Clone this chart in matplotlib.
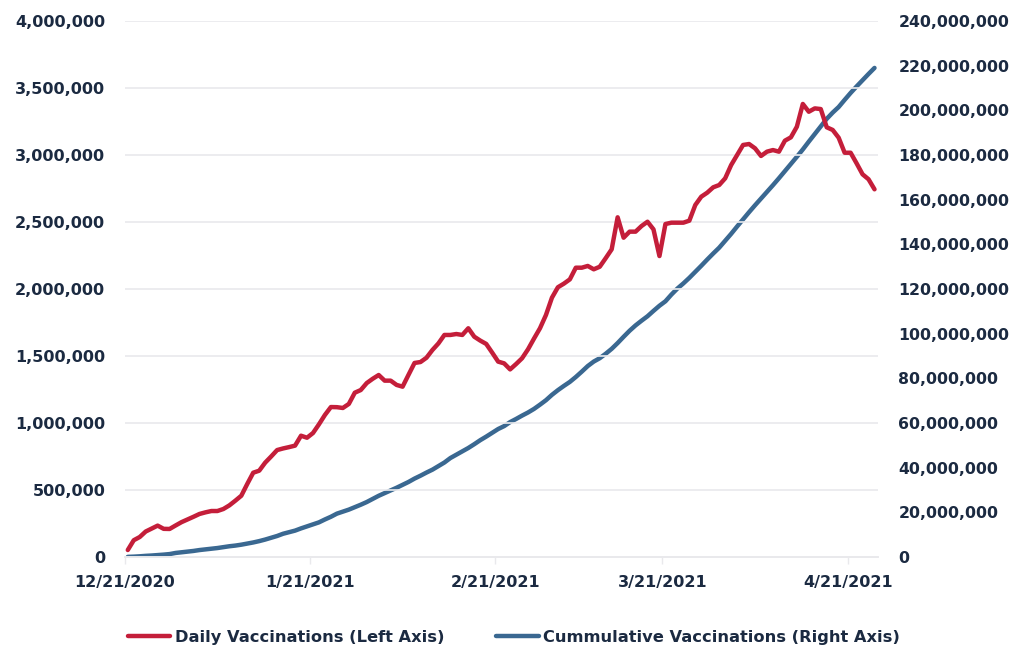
import numpy as np
import matplotlib
matplotlib.use("Agg")
from matplotlib import pyplot as plt
from matplotlib.ticker import FuncFormatter

# daily vaccinations, thousands, one value per day from 12/21/2020
daily_k = [
    52, 125, 149, 190, 212, 234, 210, 209, 235, 260,
    280, 300, 321, 333, 343, 343, 358, 385, 420, 457,
    545, 629, 644, 704, 750, 798, 810, 820, 831, 905,
    890, 925, 990, 1060, 1119, 1118, 1112, 1142, 1226, 1246,
    1298, 1330, 1358, 1316, 1316, 1284, 1271, 1360, 1448, 1455,
    1487, 1545, 1594, 1657, 1657, 1664, 1657, 1707, 1644, 1615,
    1590, 1525, 1458, 1445, 1400, 1440, 1483, 1550, 1630, 1707,
    1806, 1935, 2013, 2040, 2072, 2159, 2159, 2172, 2147, 2166,
    2230, 2296, 2535, 2383, 2428, 2428, 2470, 2502, 2445, 2246,
    2485, 2495, 2495, 2495, 2510, 2627, 2689, 2719, 2759, 2776,
    2826, 2925, 3000, 3075, 3082, 3050, 2993, 3025, 3037, 3025,
    3107, 3132, 3211, 3381, 3323, 3348, 3343, 3207, 3187, 3129,
    3017, 3017, 2938, 2856, 2819, 2744,
]

# cumulative vaccinations, millions
cumul_m = [
    0.05, 0.15, 0.3, 0.5, 0.65, 0.85, 1.05, 1.3, 1.8, 2.1,
    2.4, 2.7, 3.1, 3.4, 3.7, 4.0, 4.4, 4.8, 5.1, 5.5,
    6.0, 6.5, 7.1, 7.8, 8.6, 9.4, 10.4, 11.1, 11.8, 12.8,
    13.7, 14.6, 15.5, 16.8, 18.0, 19.4, 20.3, 21.2, 22.3, 23.4,
    24.6, 26.0, 27.4, 28.6, 29.8, 31.0, 32.3, 33.6, 35.1, 36.4,
    37.8, 39.1, 40.7, 42.3, 44.3, 45.8, 47.3, 48.8, 50.5, 52.3,
    53.9, 55.6, 57.3, 58.6, 60.4, 61.8, 63.3, 64.7, 66.3, 68.2,
    70.2, 72.6, 74.7, 76.6, 78.4, 80.6, 83.0, 85.5, 87.5, 89.0,
    91.0, 93.2, 95.8, 98.6, 101.3, 103.7, 105.8, 107.8, 110.2, 112.5,
    114.5, 117.5, 120.2, 122.5, 125.0, 127.7, 130.4, 133.2, 135.9, 138.5,
    141.6, 144.7, 148.0, 151.2, 154.4, 157.5, 160.5, 163.5, 166.5, 169.6,
    172.8, 176.0, 179.2, 182.5, 186.0, 189.4, 192.8, 196.2, 199.0, 201.5,
    204.7, 207.8, 210.7, 213.5, 216.3, 219.0,
]

tick_days = [0, 31, 62, 90, 121]
tick_labels = ["12/21/2020", "1/21/2021", "2/21/2021", "3/21/2021", "4/21/2021"]

red = "#C41E3A"
blue = "#3A6891"
txt = "#1B2A41"
grid_c = "#E9E9EC"

daily = np.array(daily_k) * 1e3
cumul = np.array(cumul_m) * 1e6
x = np.arange(len(daily)) + 0.5  # points sit between day ticks

plt.rcParams["font.family"] = ["DejaVu Sans"]
plt.rcParams["font.weight"] = "bold"

fig = plt.figure(figsize=(10.28, 6.49), dpi=100)
ax = fig.add_axes([0.1214, 0.1418, 0.7322, 0.8258])
ax2 = ax.twinx()

l1, = ax.plot(x, daily, color=red, lw=3.2, solid_capstyle="round", solid_joinstyle="round",
              label="Daily Vaccinations (Left Axis)", zorder=3)
l2, = ax2.plot(x, cumul, color=blue, lw=3.2, solid_capstyle="round", solid_joinstyle="round",
               label="Cummulative Vaccinations (Right Axis)", zorder=3)

ax.set_xlim(0, len(daily))
ax.set_ylim(0, 4e6)
ax2.set_ylim(0, 240e6)
ax.set_yticks(np.arange(0, 4e6 + 1, 5e5))
ax2.set_yticks(np.arange(0, 240e6 + 1, 20e6))
fmt = FuncFormatter(lambda v, p: f"{v:,.0f}")
ax.yaxis.set_major_formatter(fmt)
ax2.yaxis.set_major_formatter(fmt)

ax.set_xticks(tick_days)
ax.set_xticklabels(tick_labels)

ax.grid(axis="y", color=grid_c, lw=1.2)
ax.set_axisbelow(True)
for a in (ax, ax2):
    for s in ("top", "left", "right"):
        a.spines[s].set_visible(False)
    a.spines["bottom"].set_color(grid_c)
    a.spines["bottom"].set_linewidth(1.2)

ax.tick_params(axis="y", length=0, pad=14, labelsize=11.5, labelcolor=txt)
ax2.tick_params(axis="y", length=0, pad=15, labelsize=11.3, labelcolor=txt)
ax.tick_params(axis="x", length=5, width=1, color=grid_c, pad=8, labelsize=11.5, labelcolor=txt)

ax.set_zorder(ax2.get_zorder() + 1)
ax.patch.set_visible(False)

fig.legend(handles=[l1, l2], loc="center", bbox_to_anchor=(0.5, 0.018), ncol=2, frameon=False,
           fontsize=11.7, labelcolor=txt, handlelength=2.6, handletextpad=0.3, columnspacing=3.2)

fig.savefig("out.png", dpi=100)
